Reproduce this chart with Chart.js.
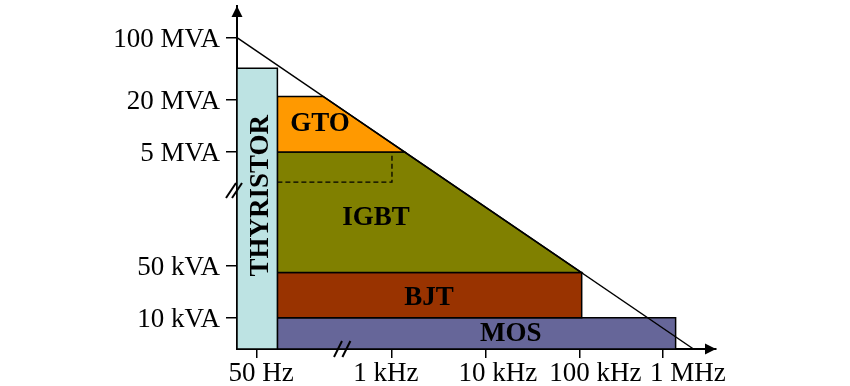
<!DOCTYPE html>
<html>
<head>
<meta charset="utf-8">
<script src="https://cdn.jsdelivr.net/npm/chart.js@4/dist/chart.umd.min.js"></script>
<style>
  html, body { margin: 0; padding: 0; background: #fff; }
  canvas { display: block; }
</style>
</head>
<body>
<canvas id="myChart" width="850" height="386"></canvas>
<script>
// frequency axis, in decades (the axis is broken between 50 Hz and 1 kHz)
const freqLabels = ['50 Hz', '1 kHz', '10 kHz', '100 kHz', '1 MHz'];
const freqTicks = [1.56, 3, 4, 5, 5.88];
// power axis (broken between 50 kVA and 5 MVA)
const powerLabels = ['10 kVA', '50 kVA', '5 MVA', '20 MVA', '100 MVA'];
const powerTicks = [1, 2, 4.19, 5.19, 6.39];

// operating areas of each device
const devices = ['THYRISTOR', 'GTO', 'IGBT', 'BJT', 'MOS'];
const freqFrom = [1.35, 1.78, 1.78, 1.78, 1.78];
const freqTo = [1.78, null, null, 5.02, 6.02];   // null = bounded by the limit line
const powerFrom = [0.4, 4.19, 1.87, 1, 0.4];
const powerTo = [5.8, 5.26, 4.19, 1.87, 1];

// power x frequency limit line
const limitFreq = [1.35, 6.21];
const limitPower = [6.39, 0.4];

// dashed box: future IGBT area
const igbtNextFreq = [1.78, 3];
const igbtNextPower = [3.61, 4.19];

const fills = ['#bde3e3', '#ff9900', '#808000', '#993300', '#666699'];
// where the texts sit (axis units); the frequency labels are not centred on their ticks
const freqLabelAt = [1.607, 2.936, 4.128, 5.165, 6.15];
const labelSpots = [[1.596, 3.35], [2.234, 4.74], [2.83, 2.94], [3.394, 1.4], [4.266, 0.71]];
const axisBreaks = {x: 2.47, y: 3.46};

function limitAt(p) {
  // frequency on the limit line for a given power level
  const t = (p - limitPower[0]) / (limitPower[1] - limitPower[0]);
  return limitFreq[0] + t * (limitFreq[1] - limitFreq[0]);
}

const datasets = devices.map((name, i) => {
  let pts;
  if (freqTo[i] === null) {
    pts = [
      {x: freqFrom[i], y: powerFrom[i]},
      {x: limitAt(powerFrom[i]), y: powerFrom[i]},
      {x: limitAt(powerTo[i]), y: powerTo[i]},
      {x: freqFrom[i], y: powerTo[i]},
      {x: freqFrom[i], y: powerFrom[i]}
    ];
  } else {
    pts = [
      {x: freqFrom[i], y: powerFrom[i]},
      {x: freqTo[i], y: powerFrom[i]},
      {x: freqTo[i], y: powerTo[i]},
      {x: freqFrom[i], y: powerTo[i]},
      {x: freqFrom[i], y: powerFrom[i]}
    ];
  }
  return {
    label: name,
    data: pts,
    showLine: true,
    fill: 'shape',
    backgroundColor: fills[i],
    borderColor: '#000',
    borderWidth: 1.5,
    pointRadius: 0,
    tension: 0,
    clip: false,
    order: 2
  };
});

datasets.push({
  label: 'IGBT next',
  data: [
    {x: igbtNextFreq[0], y: igbtNextPower[0]},
    {x: igbtNextFreq[1], y: igbtNextPower[0]},
    {x: igbtNextFreq[1], y: igbtNextPower[1]}
  ],
  showLine: true,
  fill: false,
  borderColor: '#000',
  borderWidth: 1.3,
  borderDash: [5, 3],
  pointRadius: 0,
  clip: false,
  order: 1
});

datasets.push({
  label: 'limit',
  data: limitFreq.map((f, i) => ({x: f, y: limitPower[i]})),
  showLine: true,
  fill: false,
  borderColor: '#000',
  borderWidth: 1.5,
  pointRadius: 0,
  clip: false,
  order: 0
});

const decor = {
  id: 'decor',
  afterDatasetsDraw(chart) {
    const {ctx, scales: {x, y}} = chart;
    ctx.save();
    ctx.fillStyle = '#000';
    ctx.font = 'bold 27px "Liberation Serif"';
    ctx.textAlign = 'center';
    ctx.textBaseline = 'middle';
    devices.forEach((name, i) => {
      const px = x.getPixelForValue(labelSpots[i][0]);
      const py = y.getPixelForValue(labelSpots[i][1]);
      if (i === 0) {
        ctx.save();
        ctx.translate(px, py);
        ctx.rotate(-Math.PI / 2);
        ctx.fillText(name, 0, 1);
        ctx.restore();
      } else {
        ctx.fillText(name, px, py + 1);
      }
    });
    ctx.restore();
  },
  afterDraw(chart) {
    const {ctx, chartArea: a, scales: {x, y}} = chart;
    ctx.save();
    ctx.fillStyle = '#000';
    ctx.strokeStyle = '#000';
    // arrow heads
    ctx.beginPath();
    ctx.moveTo(a.left, a.top);
    ctx.lineTo(a.left - 5.5, a.top + 11);
    ctx.lineTo(a.left + 5.5, a.top + 11);
    ctx.closePath();
    ctx.fill();
    ctx.beginPath();
    ctx.moveTo(a.right, a.bottom);
    ctx.lineTo(a.right - 11, a.bottom - 5.5);
    ctx.lineTo(a.right - 11, a.bottom + 5.5);
    ctx.closePath();
    ctx.fill();
    // axis break marks
    ctx.lineWidth = 2;
    const by = y.getPixelForValue(axisBreaks.y);
    const bx = x.getPixelForValue(axisBreaks.x);
    [-3, 3].forEach(d => {
      ctx.beginPath();
      ctx.moveTo(a.left - 8 + d, by + 8);
      ctx.lineTo(a.left + 2 + d, by - 7);
      ctx.stroke();
      ctx.beginPath();
      ctx.moveTo(bx - 4 + d * 1.4, a.bottom + 8);
      ctx.lineTo(bx + 4 + d * 1.4, a.bottom - 8);
      ctx.stroke();
    });
    ctx.restore();
  }
};

Chart.defaults.font.family = '"Liberation Serif", "Times New Roman", serif';
Chart.defaults.color = '#000';

const ctx = document.getElementById('myChart');
const myChart = new Chart(ctx, {
  type: 'scatter',
  data: { datasets: datasets },
  options: {
    responsive: false,
    animation: false,
    events: [],
    layout: { padding: { top: 6, right: 134, left: 0, bottom: 0 } },
    plugins: {
      legend: { display: false },
      tooltip: { enabled: false }
    },
    scales: {
      x: {
        type: 'linear',
        weight: 0,
        min: 1.35,
        max: 6.45,
        afterBuildTicks: axis => { axis.ticks = freqTicks.map(v => ({value: v})); },
        afterFit: axis => {
          axis.height = 9;
          axis.paddingLeft = 0;
          axis.paddingRight = 0;
        },
        ticks: { display: false, autoSkip: false },
        grid: { drawOnChartArea: false, tickLength: 9, color: '#000', lineWidth: 1.5 },
        border: { display: true, color: '#000', width: 2 }
      },
      xLabels: {
        type: 'linear',
        position: 'bottom',
        weight: 1,
        min: 1.35,
        max: 6.45,
        afterBuildTicks: axis => { axis.ticks = freqLabelAt.map(v => ({value: v})); },
        afterFit: axis => {
          axis.height = 28;
          axis.paddingLeft = 0;
          axis.paddingRight = 0;
        },
        ticks: {
          autoSkip: false,
          maxRotation: 0,
          padding: 0,
          font: { size: 27 },
          callback: (v, i) => freqLabels[i]
        },
        grid: { display: false, drawTicks: false },
        border: { display: false }
      },
      y: {
        type: 'linear',
        min: 0.4,
        max: 7.0,
        afterBuildTicks: axis => { axis.ticks = powerTicks.map(v => ({value: v})); },
        afterFit: axis => {
          axis.width = 237;
          axis.paddingTop = 0;
          axis.paddingBottom = 0;
        },
        ticks: {
          autoSkip: false,
          padding: 6,
          labelOffset: 2,
          font: { size: 27 },
          callback: (v, i) => powerLabels[i]
        },
        grid: { drawOnChartArea: false, tickLength: 11, color: '#000', lineWidth: 1.5 },
        border: { display: true, color: '#000', width: 2 }
      }
    }
  },
  plugins: [decor]
});
</script>
</body>
</html>
